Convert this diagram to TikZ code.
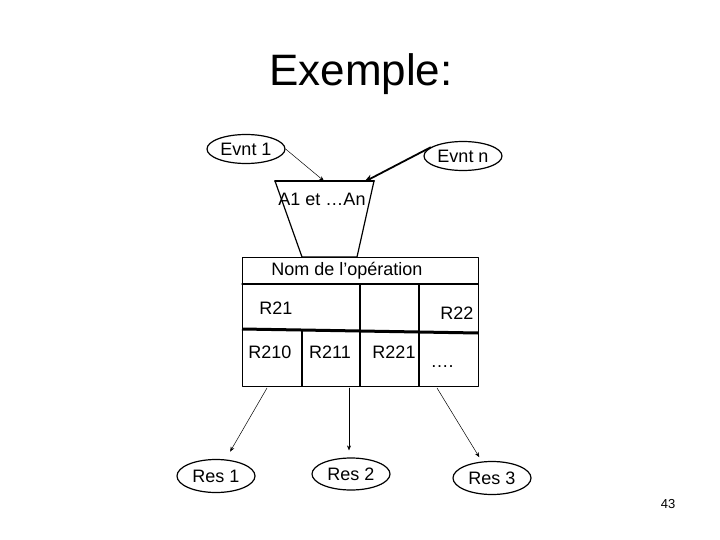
\documentclass[tikz,border=0pt]{standalone}
\usepackage{fontspec}
\setmainfont{Liberation Sans}
\usetikzlibrary{shapes.geometric, arrows.meta}

\begin{document}
\begin{tikzpicture}[line cap=round,line join=round,x=1pt,y=-1pt,
  evt/.style={draw,ellipse,line width=1.2pt,minimum width=78pt,minimum height=29pt,inner sep=0pt,font=\fontsize{18}{21}\selectfont},
  txt/.style={anchor=base,inner sep=0pt,font=\fontsize{18}{21}\selectfont},
  fin/.style={-{Stealth[length=5pt,width=4pt]},line width=0.5pt}]
\useasboundingbox (0,0) rectangle (720,540);
\node[anchor=base,font=\fontsize{44}{50}\selectfont] (titre) at (361,86) {Exemple:};
%evenements
\node[evt] (ev1) at (246,149) {Evnt 1};
\node[evt] (evn) at (463,156) {Evnt n};
%condition
\draw[line width=1.2pt] (275,181) -- (374,181) -- (357,257) -- (302,257) -- cycle;
\draw[line width=2pt] (275,181) -- (374,181);
\coordinate (a1g) at (324,181);
\coordinate (a1d) at (364,182);
\node[txt] (cond) at (322,206) {A1 et …An};
\draw[fin] (ev1.east) -- (a1g);
\draw[-{Stealth[length=9pt,width=7pt]},line width=1.8pt] (evn.165) -- (a1d);
%operation
\node[draw,line width=1.2pt,anchor=north west,minimum width=236pt,minimum height=129pt,inner sep=0pt] (op) at (242,257) {};
\draw[line width=1.2pt] (242,284) -- (478,284);
\draw[line width=1.2pt] (360,284) -- (360,386);
\draw[line width=1.2pt] (419,284) -- (419,386);
\draw[line width=1.2pt] (302,330) -- (302,386);
\draw[line width=3pt,line cap=butt] (242,329) -- (478,333);
\node[txt] (nom) at (347,275) {Nom de l’opération};
\node[txt] (r21) at (276,314) {R21};
\node[txt] (r22) at (457,319) {R22};
\node[txt] (r210) at (270,358) {R210};
\node[txt] (r211) at (330,358) {R211};
\node[txt] (r221) at (394,358) {R221};
\node[txt] (pts) at (442,367) {….};
%resultats
\node[evt,minimum height=33pt] (res1) at (216,476) {Res 1};
\node[evt,minimum height=32pt] (res2) at (351,474) {Res 2};
\node[evt,minimum height=33pt] (res3) at (492,478) {Res 3};
\coordinate (s1) at (267,388);
\coordinate (s2) at (349,388);
\coordinate (s3) at (437,388);
\draw[fin,shorten >=9pt] (s1) -- (res1);
\draw[fin,shorten >=7pt] (s2) -- (s2 |- res2.north);
\draw[fin,shorten >=5pt] (s3) -- (res3);
\node[anchor=base,font=\fontsize{13}{15}\selectfont] (page) at (668,508) {43};
\end{tikzpicture}
\end{document}
